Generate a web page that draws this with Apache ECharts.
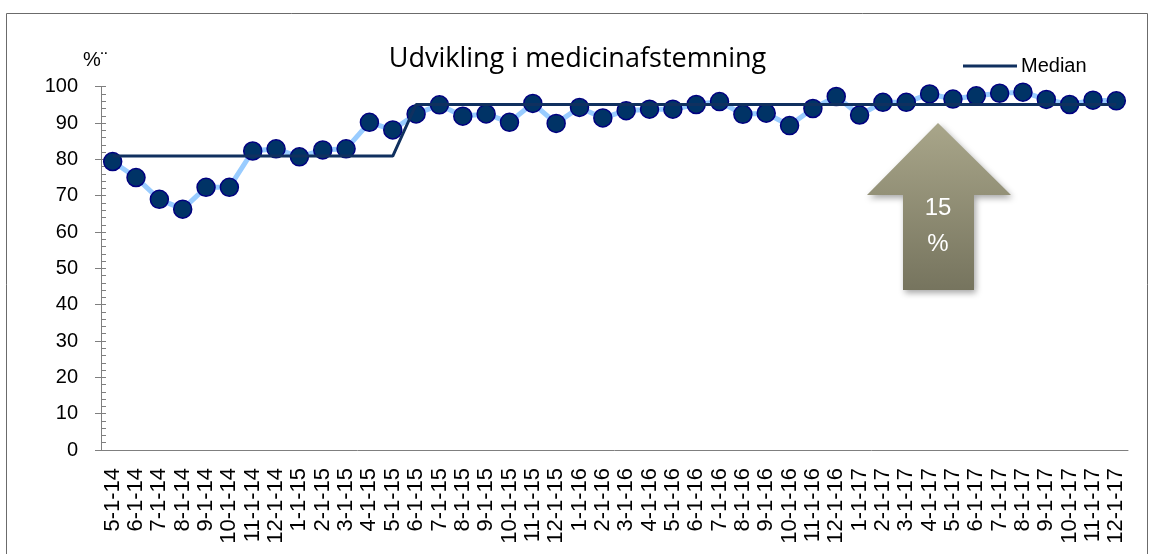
<!DOCTYPE html>
<html>
<head>
<meta charset="utf-8">
<script src="https://cdn.jsdelivr.net/npm/echarts@6/dist/echarts.min.js"></script>
<style>
    html, body {margin:0;padding:0;background:#fff;}
    #chart {width:1155px;height:554px;}
</style>
</head>
<body>
<div id="chart"></div>
<script>
    // måneder 5-1-14 .. 12-1-17
    var months = ['5-1-14','6-1-14','7-1-14','8-1-14','9-1-14','10-1-14','11-1-14','12-1-14',
        '1-1-15','2-1-15','3-1-15','4-1-15','5-1-15','6-1-15','7-1-15','8-1-15','9-1-15','10-1-15','11-1-15','12-1-15',
        '1-1-16','2-1-16','3-1-16','4-1-16','5-1-16','6-1-16','7-1-16','8-1-16','9-1-16','10-1-16','11-1-16','12-1-16',
        '1-1-17','2-1-17','3-1-17','4-1-17','5-1-17','6-1-17','7-1-17','8-1-17','9-1-17','10-1-17','11-1-17','12-1-17'];

    var values = [79.4, 75.0, 69.0, 66.3, 72.3, 72.3, 82.3, 82.9,
        80.7, 82.6, 82.9, 90.2, 88.1, 92.5, 95.0, 91.9, 92.5, 90.2, 95.4, 89.9,
        94.3, 91.4, 93.4, 93.8, 93.8, 95.1, 95.9, 92.4, 92.7, 89.3, 94.0, 97.3,
        92.2, 95.7, 95.7, 98.0, 96.6, 97.5, 98.2, 98.5, 96.5, 95.1, 96.3, 96.1];

    var median = [80.9, 80.9, 80.9, 80.9, 80.9, 80.9, 80.9, 80.9,
        80.9, 80.9, 80.9, 80.9, 80.9, 95.1, 95.1, 95.1, 95.1, 95.1, 95.1, 95.1,
        95.1, 95.1, 95.1, 95.1, 95.1, 95.1, 95.1, 95.1, 95.1, 95.1, 95.1, 95.1,
        95.1, 95.1, 95.1, 95.1, 95.1, 95.1, 95.1, 95.1, 95.1, 95.1, 95.1, 95.1];

    var chart = echarts.init(document.getElementById('chart'));
    var axisGray = '#7f7f7f';
    var font = 'Liberation Sans, Arial, sans-serif';

    var option = {
        animation: false,
        title: {
            text: 'Udvikling i medicinafstemning',
            left: 'center',
            top: 41,
            textStyle: {fontFamily: 'Open Sans', fontSize: 27, fontWeight: 'normal', color: '#000'}
        },
        legend: {
            data: [{name: 'Median', icon: 'rect'}],
            left: 958,
            top: 51,
            itemWidth: 54,
            itemHeight: 3,
            itemGap: 5,
            textStyle: {fontFamily: font, fontSize: 20, color: '#000', padding: [0, 0, 0, -1]}
        },
        grid: {left: 101, right: 27, top: 86.7, bottom: 104, containLabel: false},
        xAxis: {
            type: 'category',
            data: months,
            boundaryGap: true,
            axisLine: {lineStyle: {color: axisGray, width: 1}},
            axisTick: {length: 6, lineStyle: {color: axisGray}},
            axisLabel: {rotate: 90, margin: 18, fontFamily: font, fontSize: 22, color: '#000', interval: 0}
        },
        yAxis: [{
            // hovedakse med tal, ticks udad
            type: 'value',
            min: 0, max: 100, interval: 10,
            position: 'left',
            axisLine: {show: true, lineStyle: {color: axisGray}},
            axisTick: {show: true, length: 6, lineStyle: {color: axisGray}},
            splitLine: {show: false},
            axisLabel: {margin: 23, fontFamily: font, fontSize: 20, color: '#000'}
        }, {
            // små ticks for hver 2 på indersiden
            type: 'value',
            min: 0, max: 100, interval: 2,
            position: 'left',
            axisLine: {show: false},
            axisTick: {show: true, inside: true, length: 5, lineStyle: {color: axisGray}},
            splitLine: {show: false},
            axisLabel: {show: false}
        }],
        series: [{
            name: 'Data',
            type: 'line',
            data: values,
            symbol: 'circle',
            symbolSize: 18,
            lineStyle: {color: '#99ccff', width: 5},
            itemStyle: {color: '#003366', borderColor: '#000080', borderWidth: 1.5},
            z: 2
        }, {
            name: 'Median',
            type: 'line',
            data: median,
            symbol: 'none',
            color: '#10305f',
            lineStyle: {color: '#10305f', width: 3},
            z: 3
        }],
        graphic: [{
            type: 'rect',
            shape: {x: 6.5, y: 13.5, width: 1141, height: 560},
            style: {fill: 'none', stroke: '#6b6b6b', lineWidth: 1},
            silent: true
        }, {
            type: 'text',
            left: 83, top: 50,
            style: {text: '%¨', font: '20px ' + font, fill: '#000'}
        }, {
            type: 'polygon',
            shape: {points: [[938, 123], [1011, 195], [974, 195], [974, 290], [903, 290], [903, 195], [867, 195]]},
            style: {
                fill: new echarts.graphic.LinearGradient(0, 0, 0, 1, [
                    {offset: 0, color: '#a9a68a'},
                    {offset: 1, color: '#76745e'}
                ]),
                shadowBlur: 6, shadowOffsetX: 2, shadowOffsetY: 3, shadowColor: 'rgba(0,0,0,0.35)'
            }
        }, {
            type: 'text',
            x: 938, y: 208,
            style: {text: '15', font: '24px ' + font, fill: '#fff', align: 'center', verticalAlign: 'middle'}
        }, {
            type: 'text',
            x: 938, y: 244,
            style: {text: '%', font: '24px ' + font, fill: '#fff', align: 'center', verticalAlign: 'middle'}
        }]
    };
    chart.setOption(option);
</script>
</body>
</html>
